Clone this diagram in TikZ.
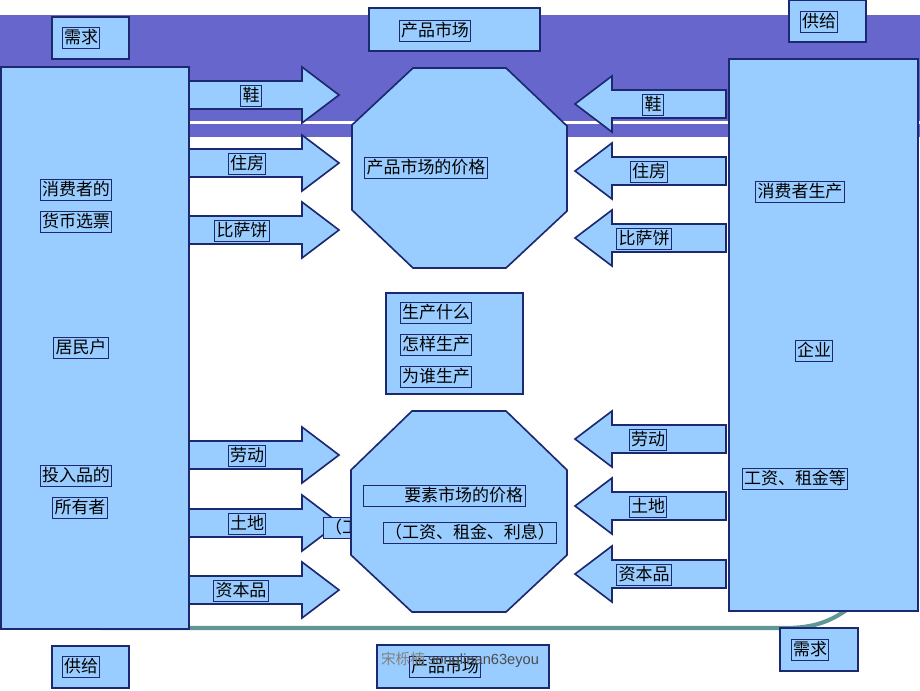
\documentclass[tikz,border=0pt]{standalone}
\usepackage{fontspec}
\usepackage{xcolor}
\usetikzlibrary{shapes,positioning,calc}

\setmainfont{Noto Sans CJK SC}
\newfontfamily\markfont{Liberation Sans}

\definecolor{bandpurple}{RGB}{102,102,204}
\definecolor{boxblue}{RGB}{153,204,255}
\definecolor{edgeblue}{RGB}{28,40,112}
\definecolor{lineteal}{RGB}{96,150,150}

\begin{document}
\begin{tikzpicture}[x=0.03cm, y=-0.03cm]

	\tikzstyle{stdrect}=[draw=edgeblue, fill=boxblue, rectangle, line width=1.4pt, inner sep=0pt];
	\tikzstyle{lbl}=[draw=edgeblue, fill=boxblue, rectangle, line width=0.6pt, inner sep=1.5pt, text height=12.5pt, text depth=2.5pt, font=\fontsize{14.5}{17}\selectfont];
	\tikzstyle{blockarrow}=[draw=edgeblue, fill=boxblue, line width=1.4pt, line join=miter];
	\tikzstyle{market}=[draw=edgeblue, fill=boxblue, line width=1.4pt];

	\useasboundingbox (0,0) rectangle (920,690);

	% band and base line of the slide
	\fill[bandpurple] (0,15) rectangle (920,137);
	\fill[white] (0,121) rectangle (920,124);
	\draw[lineteal, line width=3.5pt] (100,628) -- (785,628) .. controls (815,628) and (832,621) .. (852,606);

	% households and firms
	\node (household) [stdrect, minimum width=5.64cm, minimum height=16.86cm] at (95,348) {};
	\node (firm) [stdrect, minimum width=5.67cm, minimum height=16.56cm] at (823.5,335) {};

	\node (hhmoney) [lbl] at (76,190) {消费者的};
	\node (hhvotes) [lbl, below=0.3cm of hhmoney] {货币选票};
	\node (hhname) [lbl] at (81,348) {居民户};
	\node (hhinput) [lbl] at (76,476) {投入品的};
	\node (hhowner) [lbl, below=0.3cm of hhinput, xshift=0.12cm] {所有者};

	\node (fmgoods) [lbl] at (800,192) {消费者生产};
	\node (fmname) [lbl] at (814,351) {企业};
	\node (fmpay) [lbl] at (795,479) {工资、租金等};

	% top captions
	\node (topdemand) [stdrect, minimum width=2.31cm, minimum height=1.26cm] at (90.5,38) {};
	\node (topdemandtxt) [lbl] at (81,38) {需求};
	\node (topmarket) [stdrect, minimum width=5.13cm, minimum height=1.29cm] at (454.5,29.5) {};
	\node (topmarkettxt) [lbl] at (435,31) {产品市场};
	\node (topsupply) [stdrect, minimum width=2.31cm, minimum height=1.26cm] at (827.5,21) {};
	\node (topsupplytxt) [lbl] at (819,22) {供给};

	% flows from households and from firms
	\foreach \y/\lx/\txt in {95/251/鞋, 163/247/住房, 230/242/比萨饼, 455/247/劳动, 523/247/土地, 590/241/资本品}{
		\draw[blockarrow] (189,\y-14) -- (302,\y-14) -- (302,\y-28) -- (339,\y) -- (302,\y+28) -- (302,\y+14) -- (189,\y+14) -- cycle;
		\node (out\y) [lbl] at (\lx,\y+1) {\txt};
	}
	\foreach \y/\lx/\txt in {104/653/鞋, 171/649/住房, 238/644/比萨饼, 439/648/劳动, 506/648/土地, 574/644/资本品}{
		\draw[blockarrow] (726,\y-14) -- (612,\y-14) -- (612,\y-28) -- (575,\y) -- (612,\y+28) -- (612,\y+14) -- (726,\y+14) -- cycle;
		\node (in\y) [lbl] at (\lx,\y+1) {\txt};
	}

	% the two markets
	\draw[market] (413,68) -- (506,68) -- (567,126) -- (567,211) -- (506,268) -- (413,268) -- (352,210) -- (352,125) -- cycle;
	\node (goodsprice) [lbl] at (426,168) {产品市场的价格};

	\node (hiddenpay) [lbl, anchor=west] at (323,528) {（工资、租金、利息）};
	\draw[market] (412,411) -- (506,411) -- (567,470) -- (567,555) -- (506,612) -- (412,612) -- (351,555) -- (351,470) -- cycle;
	\node (factorprice) [lbl, text width=4.75cm, align=right] at (444,495.5) {要素市场的价格};
	\node (factorpay) [lbl] at (470,533) {（工资、租金、利息）};

	% three questions
	\node (questions) [stdrect, minimum width=4.11cm, minimum height=3.03cm] at (454.5,343.5) {};
	\node (qwhat) [lbl] at (436,313) {生产什么};
	\node (qhow) [lbl, below=0.3cm of qwhat] {怎样生产};
	\node (qwhom) [lbl, below=0.3cm of qhow] {为谁生产};

	% bottom captions
	\node (botsupply) [stdrect, minimum width=2.31cm, minimum height=1.26cm] at (90.5,667) {};
	\node (botsupplytxt) [lbl] at (81,667) {供给};
	\node (botmarket) [stdrect, minimum width=5.16cm, minimum height=1.29cm] at (463,666.5) {};
	\node (botmarkettxt) [lbl] at (445,667) {产品市场};
	\node (botdemand) [stdrect, minimum width=2.34cm, minimum height=1.29cm] at (819,649.5) {};
	\node (botdemandtxt) [lbl] at (810,650) {需求};

	\node (mark) [text=gray, font=\fontsize{12.5}{14}\selectfont] at (460,660) {宋栎楠 {\markfont\color{gray!60!black}songlinan63eyou}};

\end{tikzpicture}
\end{document}
